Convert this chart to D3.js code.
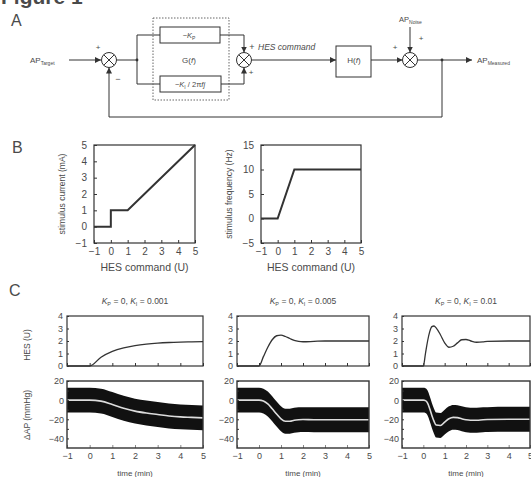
<!DOCTYPE html>
<html><head><meta charset="utf-8">
<script src="https://cdn.jsdelivr.net/npm/d3@7"></script>
<style>
body{margin:0;background:#fff}
svg{display:block}
text{font-family:"Liberation Sans",Arial,sans-serif;fill:#4a4a4a}
</style>
</head><body>
<svg id="c" width="531" height="477"></svg>
<script>
// ---------- data ----------
const bCommand1 = [-1, 0, 0, 1, 5];
const bCurrent = [0, 0, 1, 1, 5];
const bCommand2 = [-1, 0, 1, 5];
const bFrequency = [0, 0, 10, 10];
const bXTicks = [-1, 0, 1, 2, 3, 4, 5];
const bCurrentTicks = [-1, 0, 1, 2, 3, 4, 5];
const bFreqTicks = [-5, 0, 5, 10, 15];

const kiValues = ["0.001", "0.005", "0.01"];
const timeTicks = [-1, 0, 1, 2, 3, 4, 5];
const hesTicks = [0, 1, 2, 3, 4];
const apTickLabels = [20, 0, -20, -40];
const apMinorTicks = [10, -10, -30];

const time1 = [-1, 0, 0.5, 1, 1.5, 2, 2.5, 3, 3.5, 4, 4.5, 5];
const hes1  = [0, 0, 0.7, 1.17, 1.45, 1.63, 1.75, 1.83, 1.88, 1.91, 1.93, 1.95];
const ap1   = [0, 0, -1, -4.5, -8.5, -11.5, -13.5, -15, -16.5, -17.5, -18, -18.5];

const time2 = [-1, 0, 0.2, 0.4, 0.6, 0.8, 1.0, 1.2, 1.4, 1.6, 1.8, 2.0, 2.5, 3, 4, 5];
const hes2  = [0, 0, 0.75, 1.5, 2.1, 2.42, 2.47, 2.36, 2.2, 2.05, 1.97, 1.94, 1.97, 2.0, 2.0, 2.0];
const ap2   = [0, 0, -1, -4, -9, -14.5, -19.5, -22, -22, -21, -20.5, -20.3, -20.5, -20.5, -20.5, -20.5];

const time3 = [-1, 0, 0.1, 0.2, 0.3, 0.4, 0.5, 0.6, 0.8, 1.0, 1.2, 1.4, 1.6, 1.8, 2.0, 2.2, 2.5, 2.8, 3, 4, 5];
const hes3  = [0, 0, 1.0, 2.0, 2.75, 3.15, 3.2, 3.05, 2.5, 1.85, 1.5, 1.58, 1.85, 2.1, 2.12, 2.02, 1.9, 1.93, 1.97, 2.0, 2.0];
const ap3   = [0, 0, -0.5, -3, -9, -16, -22, -26, -26.5, -23, -19.5, -18, -18.3, -19.5, -20.5, -21, -21, -20.5, -20.3, -20, -20];

const apBand = 13; // half amplitude of pulsatile AP

// ---------- drawing ----------
const svg = d3.select("#c");
const ink = "#333";

// Figure header (cut at top)
svg.append("text").attr("x", 1).attr("y", 4).attr("font-size", 21).attr("font-weight", "bold").attr("fill", "#333").text("Figure 1");
const letter = (t, x, y) => svg.append("text").attr("x", x).attr("y", y).attr("font-size", 16).attr("fill", "#444").text(t);
letter("A", 11, 26); letter("B", 12, 153); letter("C", 9, 296);

// ---------- block diagram ----------
const defs = svg.append("defs");
defs.append("marker").attr("id", "ah").attr("viewBox", "0 0 10 10").attr("refX", 10).attr("refY", 5)
  .attr("markerWidth", 6).attr("markerHeight", 6).attr("markerUnits", "userSpaceOnUse").attr("orient", "auto")
  .append("path").attr("d", "M0,0L10,5L0,10z").attr("fill", ink);

const D = svg.append("g").attr("stroke", ink).attr("fill", "none").attr("stroke-width", 1);
const line = (pts, arrow) => {
  const p = D.append("path").attr("d", d3.line()(pts));
  if (arrow) p.attr("marker-end", "url(#ah)");
};
const sum = (cx, cy, r) => {
  D.append("circle").attr("cx", cx).attr("cy", cy).attr("r", r);
  const k = r * 0.7071;
  line([[cx - k, cy - k], [cx + k, cy + k]]);
  line([[cx - k, cy + k], [cx + k, cy - k]]);
};
const dot = (x, y) => svg.append("circle").attr("cx", x).attr("cy", y).attr("r", 1.4).attr("fill", ink);
const T = (x, y, size, anchor) => svg.append("text").attr("x", x).attr("y", y).attr("font-size", size).attr("text-anchor", anchor || "start");
const sub = (t, s, dy) => t.append("tspan").attr("font-size", s).attr("dy", dy);

const my = 60, r = 7.5;
{ const t = T(30, 63, 8); t.append("tspan").text("AP"); sub(t, 5, 1.5).text("Target"); }
line([[69, my], [101, my]], true);
sum(109, my, r);
T(98, 50, 8, "middle").text("+");
T(118, 82, 9, "middle").text("−");
line([[116.5, my], [137, my]]);
dot(137, my);
line([[137, 35], [137, 84]]);
line([[137, 35], [160, 35]]);
line([[137, 84], [160, 84]]);
D.append("rect").attr("x", 160).attr("y", 27).attr("width", 60).attr("height", 16);
D.append("rect").attr("x", 160).attr("y", 76).attr("width", 61).attr("height", 16);
D.append("rect").attr("x", 153).attr("y", 18).attr("width", 76).attr("height", 82).attr("stroke-dasharray", "1.5,1.5").attr("stroke", "#666");
{ const t = T(189, 38, 7.5, "middle"); t.append("tspan").text("−"); t.append("tspan").attr("font-style", "italic").text("K"); sub(t, 5, 1.5).text("P"); }
{ const t = T(190, 87, 7.5, "middle"); t.append("tspan").text("−"); t.append("tspan").attr("font-style", "italic").text("K");
  sub(t, 5, 1.5).text("I"); t.append("tspan").attr("dy", -1.5).text(" / 2π"); t.append("tspan").attr("font-style", "italic").text("fj"); }
{ const t = T(189, 63, 8, "middle"); t.append("tspan").text("G("); t.append("tspan").attr("font-style", "italic").text("f"); t.append("tspan").text(")"); }
line([[220, 35], [244, 35], [244, 52.5]], true);
line([[221, 84], [244, 84], [244, 67.5]], true);
sum(244, my, r);
T(252, 50, 9, "middle").text("+");
T(258, 50, 8.5).attr("font-style", "italic").text("HES command");
T(251, 75, 8, "middle").text("+");
line([[251.5, my], [336, my]], true);
D.append("rect").attr("x", 336).attr("y", 46).attr("width", 35).attr("height", 31);
{ const t = T(354, 63, 8, "middle"); t.append("tspan").text("H("); t.append("tspan").attr("font-style", "italic").text("f"); t.append("tspan").text(")"); }
line([[371, my], [402.5, my]], true);
sum(410, my, r);
T(395, 50, 8, "middle").text("+");
T(421, 41, 8, "middle").text("+");
{ const t = T(399, 22, 7.5); t.append("tspan").text("AP"); sub(t, 5, 1.5).text("Noise"); }
line([[410, 27], [410, 52.5]], true);
line([[417.5, my], [472, my]], true);
dot(442, my);
{ const t = T(477, 63, 8); t.append("tspan").text("AP"); sub(t, 5, 1.5).text("Measured"); }
line([[442, my], [442, 117], [109, 117], [109, 67.5]], true);

// ---------- generic panel ----------
function panel(x0, x1, y0, y1, xd, yd) {
  const x = d3.scaleLinear().domain(xd).range([x0, x1]);
  const y = d3.scaleLinear().domain(yd).range([y1, y0]);
  const g = svg.append("g");
  return { x, y, g };
}
function styleAxis(a, size) {
  a.select(".domain").remove();
  a.attr("font-family", null).attr("font-size", size);
  a.selectAll("line").attr("stroke", ink);
  a.selectAll("text").attr("fill", "#4a4a4a");
}
function box(P, sw) {
  const [x0, x1] = P.x.range(), [y1, y0] = P.y.range();
  P.g.append("rect").attr("x", x0).attr("y", y0).attr("width", x1 - x0).attr("height", y1 - y0)
    .attr("fill", "none").attr("stroke", ink).attr("stroke-width", sw || 1.2);
}
const fmt = d => d < 0 ? "−" + (-d) : String(d);

// ---------- B ----------
function bPanel(x0, x1, yd, yTicks, xs, ys, label) {
  const P = panel(x0, x1, 145, 243, [-1, 5], yd);
  const ax = P.g.append("g").attr("transform", `translate(0,243)`)
    .call(d3.axisBottom(P.x).tickValues(bXTicks).tickSizeInner(-3).tickSizeOuter(0).tickPadding(5).tickFormat(fmt));
  styleAxis(ax, 10);
  const ay = P.g.append("g").attr("transform", `translate(${x0},0)`)
    .call(d3.axisLeft(P.y).tickValues(yTicks).tickSizeInner(-3).tickSizeOuter(0).tickPadding(7).tickFormat(fmt));
  styleAxis(ay, 10);
  box(P);
  P.g.append("path").datum(xs.map((v, i) => [v, ys[i]]))
    .attr("d", d3.line().x(d => P.x(d[0])).y(d => P.y(d[1])))
    .attr("fill", "none").attr("stroke", ink).attr("stroke-width", 2);
  svg.append("text").attr("x", (x0 + x1) / 2).attr("y", 271).attr("font-size", 10.5).attr("text-anchor", "middle").text("HES command (U)");
  svg.append("text").attr("transform", `translate(${x0 - 29},194) rotate(-90)`).attr("font-size", 8.5).attr("text-anchor", "middle").text(label);
}
bPanel(94, 195, [-1, 5], bCurrentTicks, bCommand1, bCurrent, "stimulus current (mA)");
bPanel(261, 361, [-5, 15], bFreqTicks, bCommand2, bFrequency, "stimulus frequency (Hz)");

// ---------- C ----------
const cPanels = [
  { x0: 67, x1: 203, t: time1, h: hes1, a: ap1 },
  { x0: 237, x1: 369, t: time2, h: hes2, a: ap2 },
  { x0: 402, x1: 530, t: time3, h: hes3, a: ap3 }
];
cPanels.forEach((c, i) => {
  const tt = svg.append("text").attr("x", (c.x0 + c.x1) / 2).attr("y", 304).attr("font-size", 8.5).attr("text-anchor", "middle");
  tt.append("tspan").attr("font-style", "italic").text("K");
  tt.append("tspan").attr("font-size", 5.5).attr("dy", 1.5).text("P");
  tt.append("tspan").attr("dy", -1.5).text(" = 0, ");
  tt.append("tspan").attr("font-style", "italic").text("K");
  tt.append("tspan").attr("font-size", 5.5).attr("dy", 1.5).text("I");
  tt.append("tspan").attr("dy", -1.5).text(" = " + kiValues[i]);

  // HES
  const H = panel(c.x0, c.x1, 316, 366, [-1, 5], [0, 4]);
  const hx = H.g.append("g").attr("transform", "translate(0,366)")
    .call(d3.axisBottom(H.x).tickValues(timeTicks).tickSizeInner(-3).tickSizeOuter(0).tickFormat(""));
  styleAxis(hx, 9);
  const hy = H.g.append("g").attr("transform", `translate(${c.x0},0)`)
    .call(d3.axisLeft(H.y).tickValues(hesTicks).tickSizeInner(-2).tickSizeOuter(0).tickPadding(4).tickFormat(fmt));
  styleAxis(hy, 9);
  box(H);
  H.g.append("path").datum(c.t.map((v, k) => [v, c.h[k]]))
    .attr("d", d3.line().x(d => H.x(d[0])).y(d => H.y(d[1])).curve(d3.curveMonotoneX))
    .attr("fill", "none").attr("stroke", ink).attr("stroke-width", 1.3);

  // Delta AP
  const A = panel(c.x0, c.x1, 381, 448, [-1, 5], [-50, 20]);
  const cid = "clip" + i;
  defs.append("clipPath").attr("id", cid).append("rect")
    .attr("x", c.x0).attr("y", 381).attr("width", c.x1 - c.x0).attr("height", 67);
  const pts = c.t.map((v, k) => [v, c.a[k]]);
  A.g.append("path").datum(pts).attr("clip-path", `url(#${cid})`)
    .attr("d", d3.area().x(d => A.x(d[0])).y0(d => A.y(d[1] - apBand)).y1(d => A.y(d[1] + apBand)).curve(d3.curveMonotoneX))
    .attr("fill", "#111");
  A.g.append("path").datum(pts).attr("clip-path", `url(#${cid})`)
    .attr("d", d3.line().x(d => A.x(d[0])).y(d => A.y(d[1])).curve(d3.curveMonotoneX))
    .attr("fill", "none").attr("stroke", "#ddd").attr("stroke-width", 1.6);
  const axx = A.g.append("g").attr("transform", "translate(0,448)")
    .call(d3.axisBottom(A.x).tickValues(timeTicks).tickSizeInner(-3).tickSizeOuter(0).tickPadding(5).tickFormat(fmt));
  styleAxis(axx, 9);
  axx.selectAll("line").attr("stroke", "#888");
  const ayy = A.g.append("g").attr("transform", `translate(${c.x0},0)`)
    .call(d3.axisLeft(A.y).tickValues(apTickLabels).tickSizeInner(-2).tickSizeOuter(0).tickPadding(3).tickFormat(fmt));
  styleAxis(ayy, 9);
  A.g.append("g").attr("transform", `translate(${c.x0},0)`)
    .call(d3.axisLeft(A.y).tickValues(apMinorTicks).tickSizeInner(-2).tickSizeOuter(0).tickFormat(""))
    .call(a => styleAxis(a, 9));
  box(A, 1.4);
  svg.append("text").attr("x", (c.x0 + c.x1) / 2).attr("y", 476).attr("font-size", 8).attr("text-anchor", "middle").text("time (min)");
});
svg.append("text").attr("transform", "translate(30,345) rotate(-90)").attr("font-size", 8.5).attr("text-anchor", "middle").text("HES (U)");
svg.append("text").attr("transform", "translate(30,415) rotate(-90)").attr("font-size", 8.5).attr("text-anchor", "middle").text("ΔAP (mmHg)");
</script>
</body></html>
